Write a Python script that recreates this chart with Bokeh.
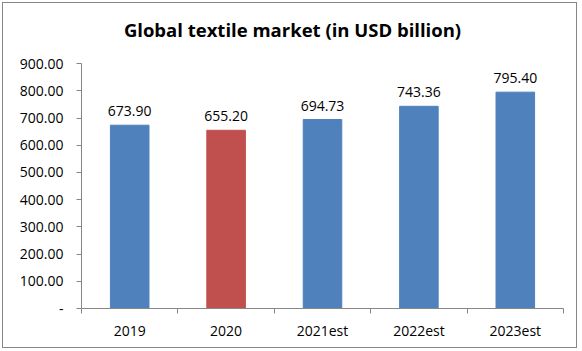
from bokeh.plotting import figure
from bokeh.models import Range1d, FixedTicker, ColumnDataSource, LinearAxis, Label
from bokeh.core.properties import value
from bokeh.embed import file_html
from bokeh.resources import INLINE

categories = ["2019", "2020", "2021est", "2022est", "2023est"]
values = [673.90, 655.20, 694.73, 743.36, 795.40]
colors = ["#4F81BD", "#C0504D", "#4F81BD", "#4F81BD", "#4F81BD"]
y_ticks = [0, 100, 200, 300, 400, 500, 600, 700, 800, 900]
title_text = "Global textile market (in USD billion)"

xs = [i + 0.5 for i in range(len(categories))]
src = ColumnDataSource(dict(x=xs, top=values, color=colors,
                            label=["%.2f" % v for v in values]))

FONT = "Open Sans"
Y_MAX = 900
# frame extends 60px above the 900 line (244px for 0..900) to host the title
y_top = Y_MAX * (244 + 60) / 244

p = figure(width=575, height=346, output_backend="svg", toolbar_location=None,
           x_range=Range1d(0, len(categories)), y_range=Range1d(0, y_top),
           x_axis_location=None, y_axis_location=None, title_location=None)
p.margin = (2, 0, 0, 2)
p.styles = {"border": "1px solid #868686", "box-sizing": "border-box"}
p.min_border_left = 78
p.min_border_right = 15
p.min_border_top = 0
p.min_border_bottom = 41
p.outline_line_color = None
p.grid.visible = False
p.background_fill_color = "white"
p.border_fill_color = "white"

p.add_layout(Label(x=288, y=25, x_units="canvas", y_units="canvas", text=title_text,
                   text_align="center", text_baseline="middle", text_font=FONT,
                   text_font_size="18.5px", text_font_style="bold",
                   text_color="#000000"))

yax = LinearAxis(ticker=FixedTicker(ticks=y_ticks, minor_ticks=[]), bounds=(0, Y_MAX))
yax.major_label_overrides = {t: ("-" if t == 0 else "%.2f" % t) for t in y_ticks}
yax.axis_line_color = "#868686"
yax.major_tick_line_color = "#868686"
yax.major_tick_out = 5
yax.major_tick_in = 0
yax.major_label_text_font = FONT
yax.major_label_text_font_size = "14px"
yax.major_label_text_color = "#000000"
yax.major_label_standoff = 13
p.add_layout(yax, "left")

xax = LinearAxis(ticker=FixedTicker(ticks=xs, minor_ticks=list(range(len(categories) + 1))))
xax.major_label_overrides = {x: c for x, c in zip(xs, categories)}
xax.axis_line_color = "#868686"
xax.major_tick_line_color = None
xax.major_tick_out = 0
xax.major_tick_in = 0
xax.minor_tick_line_color = "#868686"
xax.minor_tick_out = 5
xax.minor_tick_in = 0
xax.major_label_text_font = FONT
xax.major_label_text_font_size = "14px"
xax.major_label_text_color = "#000000"
xax.major_label_standoff = 7
p.add_layout(xax, "below")

p.vbar(x="x", top="top", width=0.4, bottom=0, color="color", source=src)
p.text(x="x", y="top", text="label", source=src, text_align="center",
       text_baseline="bottom", y_offset=-9, text_font=value(FONT),
       text_font_size="14px", text_color="#000000")

open("out.html", "w").write(file_html(p, INLINE))
